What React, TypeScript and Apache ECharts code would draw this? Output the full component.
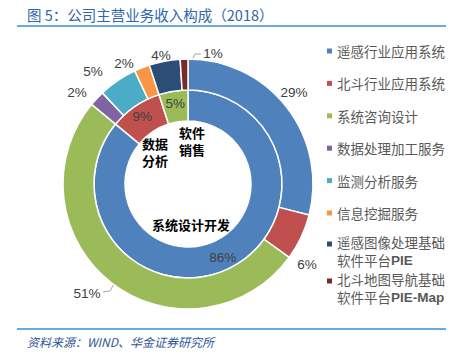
import React, { useEffect, useRef } from "react";
import * as echarts from "echarts";

const outerNames = [
  "遥感行业应用系统",
  "北斗行业应用系统",
  "系统咨询设计",
  "数据处理加工服务",
  "监测分析服务",
  "信息挖掘服务",
  "遥感图像处理基础\n软件平台PIE",
  "北斗地图导航基础\n软件平台PIE-Map",
];
const outerValues = [29, 6, 51, 2, 5, 2, 4, 1];
const outerColors = ["#4F81BD", "#C0504D", "#9BBB59", "#8064A2", "#4BACC6", "#F79646", "#2C4D75", "#772C2A"];

const innerNames = ["系统设计开发", "数据分析", "软件销售"];
const innerValues = [86, 9, 5];
const innerColors = ["#4F81BD", "#C0504D", "#9BBB59"];

const titleText = "图 5：公司主营业务收入构成（2018）";
const sourceText = "资料来源：WIND、华金证券研究所";

const CX = 188;
const CY = 184;

export default function App() {
  const ref = useRef<HTMLDivElement>(null);
  useEffect(() => {
    if (!ref.current) return;
    const chart = echarts.init(ref.current, null, { renderer: "svg" });
    const labelStyle = {
      color: "#404040",
      fontSize: 13.5,
      fontFamily: "Liberation Sans, Arial, sans-serif",
    };
    const legendText = {
      color: "#595959",
      fontSize: 13.5,
      fontFamily: "Noto Sans CJK SC",
      lineHeight: 18,
      rich: {
        b: {
          color: "#595959",
          fontSize: 13.5,
          fontWeight: "bold",
          fontFamily: "Liberation Sans, Arial, sans-serif",
          lineHeight: 18,
        },
      },
    };
    const fmt = (name: string) => name.replace(/(PIE(-Map)?)/, "{b|$1}");
    // hand-placed labels, as in the original
    const outerLabelAt = [
      [294, 92],
      [307, 264],
      [87, 293],
      [77, 92],
      [93, 71],
      [124, 63],
      [161, 55],
      [213, 53],
    ];
    // leader lines: [bend, end] for the labels that have one
    const leader: Record<number, number[][]> = {
      2: [[110, 291], [103, 292]],
      7: [[195, 54], [201, 54]],
    };
    const total = outerValues.reduce((a, b) => a + b, 0);
    const midAngle = (i: number) => {
      let before = 0;
      for (let k = 0; k < i; k++) before += outerValues[k];
      return ((before + outerValues[i] / 2) / total) * Math.PI * 2;
    };
    const legendBase = {
      orient: "vertical",
      left: 327,
      padding: 0,
      itemWidth: 5,
      itemHeight: 5,
      icon: "rect",
      itemStyle: { borderWidth: 0 },
      formatter: fmt,
      textStyle: legendText,
      selectedMode: false,
    };
    // marker sitting beside the first line of a two-line legend entry
    const topIcon = "path://M0 0h0.05v0.05H0z M0 8.5h5v5H0z M0 35.95h0.05v0.05H0z";
    const nameStyle = {
      fill: "#000",
      font: "bold 13px 'Noto Sans CJK SC'",
      align: "left",
      verticalAlign: "middle",
    };
    chart.setOption({
      animation: false,
      backgroundColor: "#ffffff",
      title: {
        text: titleText,
        left: 27,
        top: 7,
        padding: 0,
        textStyle: {
          color: "#2E67AA",
          fontSize: 14.5,
          fontWeight: "normal",
          fontFamily: "Noto Sans CJK SC",
        },
      },
      legend: [
        { ...legendBase, top: 42, itemGap: 14.4, data: outerNames.slice(0, 6) },
        { ...legendBase, top: 233, itemHeight: 36, icon: topIcon, data: outerNames.slice(6, 7) },
        { ...legendBase, top: 270, itemHeight: 36, icon: topIcon, data: outerNames.slice(7) },
      ],
      graphic: [
        {
          type: "line",
          shape: { x1: 17, y1: 26, x2: 446, y2: 26 },
          style: { stroke: "#3B8FD3", lineWidth: 1.5 },
        },
        {
          type: "line",
          shape: { x1: 17, y1: 329, x2: 446, y2: 329 },
          style: { stroke: "#3B8FD3", lineWidth: 1.5 },
        },
        {
          type: "text",
          left: 27,
          top: 335,
          style: {
            text: sourceText,
            fill: "#2F5597",
            font: "italic 12px 'Noto Sans CJK SC'",
          },
        },
        { type: "text", x: 179, y: 132.5, style: { ...nameStyle, text: "软件" } },
        { type: "text", x: 179, y: 149.5, style: { ...nameStyle, text: "销售" } },
        { type: "text", x: 142, y: 143.5, style: { ...nameStyle, text: "数据" } },
        { type: "text", x: 142, y: 160.5, style: { ...nameStyle, text: "分析" } },
        { type: "text", x: 152, y: 224, style: { ...nameStyle, text: "系统设计开发" } },
      ],
      series: [
        {
          type: "pie",
          name: "inner",
          center: [CX, CY],
          radius: [63, 94],
          startAngle: 90,
          clockwise: true,
          avoidLabelOverlap: false,
          itemStyle: { borderColor: "#fff", borderWidth: 1.5 },
          label: {
            show: true,
            position: "inside",
            formatter: (p: any) => p.value + "%",
            ...labelStyle,
          },
          labelLine: { show: false },
          emphasis: { disabled: true },
          data: innerNames.map((n, i) => ({
            name: n,
            value: innerValues[i],
            itemStyle: { color: innerColors[i] },
          })),
        },
        {
          type: "pie",
          name: "outer",
          center: [CX, CY],
          radius: [94, 125],
          startAngle: 90,
          clockwise: true,
          avoidLabelOverlap: false,
          itemStyle: { borderColor: "#fff", borderWidth: 1.5 },
          label: {
            show: true,
            position: "outside",
            formatter: (p: any) => p.value + "%",
            ...labelStyle,
          },
          labelLine: { show: false, length: 6, length2: 0 },
          labelLayout: (p: any) => {
            const i = p.dataIndex;
            const q = outerLabelAt[i];
            const out: any = { x: q[0], y: q[1], align: "center", verticalAlign: "middle" };
            if (leader[i]) {
              const a = midAngle(i);
              const r = 109.5;
              out.labelLinePoints = [
                [CX + r * Math.sin(a), CY - r * Math.cos(a)],
                leader[i][0],
                leader[i][1],
              ];
            }
            return out;
          },
          emphasis: { disabled: true },
          data: outerNames.map((n, i) => ({
            name: n,
            value: outerValues[i],
            itemStyle: { color: outerColors[i] },
            ...(leader[i]
              ? { labelLine: { show: true, length: 8, length2: 6, lineStyle: { color: "#A6A6A6", width: 1 } } }
              : {}),
          })),
        },
      ],
    });
    return () => chart.dispose();
  }, []);
  return (
    <div
      ref={ref}
      style={{ position: "fixed", left: 0, top: 0, width: 467, height: 357 }}
    />
  );
}
